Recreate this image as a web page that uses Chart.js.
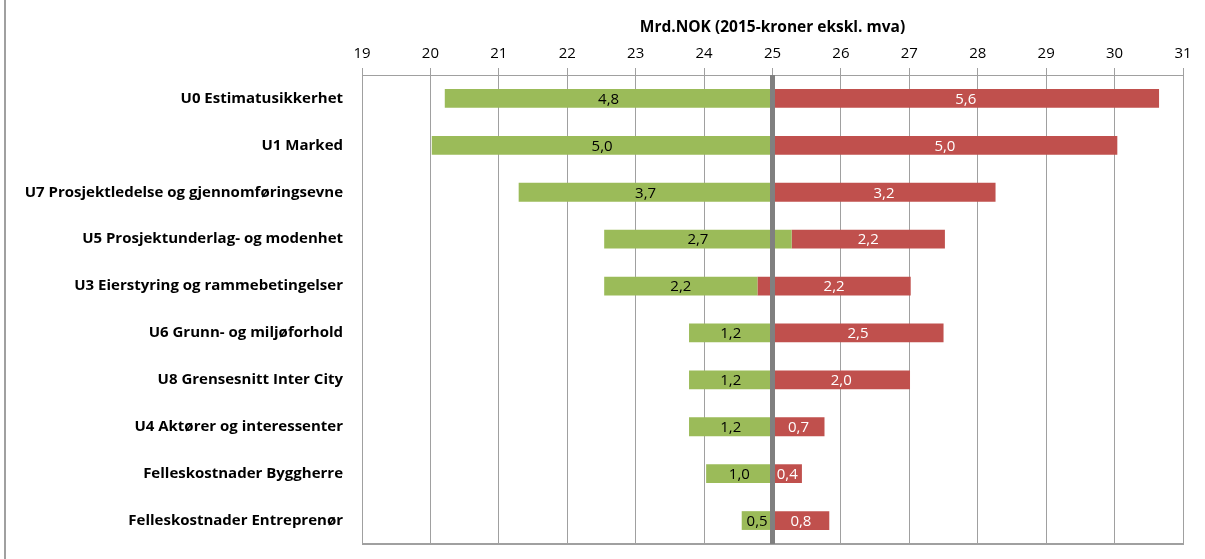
<!DOCTYPE html>
<html>
<head>
<meta charset="utf-8">
<script src="https://cdn.jsdelivr.net/npm/chart.js@4.4.1/dist/chart.umd.min.js"></script>
<style>
    html, body { margin: 0; padding: 0; background: #fff; }
    #wrap { position: relative; width: 1205px; height: 559px; }
    #frame { position: absolute; left: 4px; top: 0; width: 2px; height: 559px; background: #a0a0a0; }
    canvas { display: block; }
</style>
</head>
<body>
<div id="wrap">
    <div id="frame"></div>
    <canvas id="tornado" width="1205" height="559"></canvas>
</div>
<script>
// categories, top to bottom
const categories = [
    'U0 Estimatusikkerhet',
    'U1 Marked',
    'U7 Prosjektledelse og gjennomføringsevne',
    'U5 Prosjektunderlag- og modenhet',
    'U3 Eierstyring og rammebetingelser',
    'U6 Grunn- og miljøforhold',
    'U8 Grensesnitt Inter City',
    'U4 Aktører og interessenter',
    'Felleskostnader Byggherre',
    'Felleskostnader Entreprenør'
];

// bar ends in Mrd.NOK
const lowValues   = [20.21, 20.02, 21.29, 22.54, 22.54, 23.78, 23.78, 23.78, 24.03, 24.55];
const splitValues = [25.00, 25.00, 25.00, 25.28, 24.78, 25.00, 25.00, 25.00, 25.00, 25.00];
const highValues  = [30.65, 30.04, 28.26, 27.52, 27.02, 27.50, 27.01, 25.76, 25.43, 25.83];

// value labels shown inside the bars
const downLabels = ['4,8', '5,0', '3,7', '2,7', '2,2', '1,2', '1,2', '1,2', '1,0', '0,5'];
const upLabels   = ['5,6', '5,0', '3,2', '2,2', '2,2', '2,5', '2,0', '0,7', '0,4', '0,8'];

const xTicks = [19, 20, 21, 22, 23, 24, 25, 26, 27, 28, 29, 30, 31];
const baseValue = 25;
const axisTitle = 'Mrd.NOK (2015-kroner ekskl. mva)';

const FONT = '"Open Sans", "Liberation Sans", sans-serif';
const GRID = '#a0a0a0';

const barLabels = {
    id: 'barLabels',
    afterDatasetsDraw(chart) {
        const ctx = chart.ctx;
        const area = chart.chartArea;
        const x = chart.scales.x;
        ctx.save();

        // bottom border of plot area
        ctx.fillStyle = GRID;
        ctx.fillRect(area.left, area.bottom - 1, area.right - area.left + 1, 2);

        // thick base line at 25
        const bx = x.getPixelForValue(baseValue);
        ctx.fillStyle = '#808080';
        ctx.fillRect(bx - 2.5, area.top, 5, area.bottom - area.top);

        ctx.font = '15px ' + FONT;
        ctx.textAlign = 'center';
        ctx.textBaseline = 'middle';
        const sets = [[downLabels, '#000'], [upLabels, '#fff']];
        sets.forEach(([labels, color], i) => {
            const meta = chart.getDatasetMeta(i);
            ctx.fillStyle = color;
            meta.data.forEach((bar, j) => {
                ctx.fillText(labels[j], (bar.x + bar.base) / 2, bar.y + 1);
            });
        });
        ctx.restore();
    }
};

const ctx = document.getElementById('tornado').getContext('2d');
new Chart(ctx, {
    type: 'bar',
    data: {
        labels: categories,
        datasets: [
            {
                data: categories.map((c, i) => [lowValues[i], splitValues[i]]),
                backgroundColor: '#9BBB59',
                borderWidth: 0
            },
            {
                data: categories.map((c, i) => [splitValues[i], highValues[i]]),
                backgroundColor: '#C0504D',
                borderWidth: 0
            }
        ]
    },
    options: {
        indexAxis: 'y',
        responsive: false,
        animation: false,
        devicePixelRatio: 1,
        grouped: false,
        barPercentage: 0.4,
        categoryPercentage: 1,
        layout: { padding: { left: 0, right: 22, top: 0, bottom: 15 } },
        plugins: {
            legend: { display: false },
            tooltip: { enabled: false }
        },
        scales: {
            x: {
                position: 'top',
                min: 19,
                max: 31,
                afterBuildTicks: scale => {
                    scale.ticks = xTicks.map(v => ({ value: v }));
                },
                afterFit: scale => { scale.height = 75; },
                grid: { color: GRID, lineWidth: 1, tickLength: 7, drawTicks: true },
                border: { display: true, color: GRID, width: 1 },
                ticks: {
                    color: '#000',
                    padding: 5,
                    font: { family: FONT, size: 15 }
                },
                title: {
                    display: true,
                    text: axisTitle,
                    color: '#000',
                    padding: { top: 18, bottom: 0 },
                    font: { family: FONT, size: 15.5, weight: 'bold' }
                }
            },
            y: {
                afterFit: scale => {
                    scale.width = 362;
                    scale.paddingTop = 0;
                    scale.paddingBottom = 0;
                },
                grid: { display: false, drawTicks: false },
                border: { display: true, color: GRID, width: 1 },
                ticks: {
                    color: '#000',
                    padding: 19,
                    font: { family: FONT, size: 15, weight: 'bold' }
                }
            }
        }
    },
    plugins: [barLabels]
});
</script>
</body>
</html>
